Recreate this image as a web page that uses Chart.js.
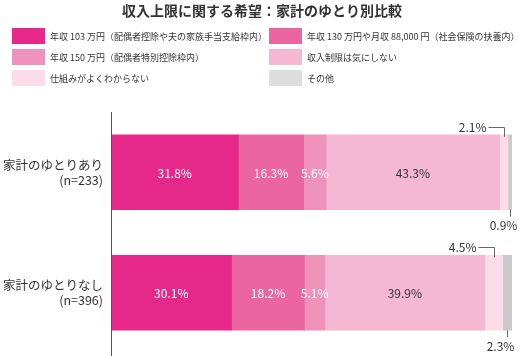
<!DOCTYPE html>
<html>
<head>
<meta charset="utf-8">
<script src="https://cdn.jsdelivr.net/npm/chart.js@4.4.1/dist/chart.umd.min.js"></script>
<style>
html,body{margin:0;padding:0;background:#fff;}
#wrap{width:521px;height:356px;position:relative;}
</style>
</head>
<body>
<div id="wrap"><canvas id="c" width="521" height="356"></canvas></div>
<script>
const titleText = '収入上限に関する希望：家計のゆとり別比較';
const categories = [['家計のゆとりあり', '(n=233)'], ['家計のゆとりなし', '(n=396)']];
const seriesNames = [
  '年収 103 万円（配偶者控除や夫の家族手当支給枠内）',
  '年収 130 万円や月収 88,000 円（社会保険の扶養内）',
  '年収 150 万円（配偶者特別控除枠内）',
  '収入制限は気にしない',
  '仕組みがよくわからない',
  'その他'
];
const s103 = [31.8, 30.1];
const s130 = [16.3, 18.2];
const s150 = [5.6, 5.1];
const sNoLimit = [43.3, 39.9];
const sUnknown = [2.1, 4.5];
const sOther = [0.9, 2.3];
const seriesValues = [s103, s130, s150, sNoLimit, sUnknown, sOther];
const barColors = ['#e6288a', '#eb66a0', '#ee92b9', '#f4b8d2', '#fbdce8', '#c9c9c9'];
const legendColors = ['#e6288a', '#eb66a0', '#ee92b9', '#f4b8d2', '#fbdce8', '#dcdddd'];
const insideTextColors = ['#ffffff', '#ffffff', '#ffffff', '#333333'];

const FONT = '"Noto Sans CJK JP", "Noto Sans", sans-serif';

const drawPlugin = {
  id: 'drawExtras',
  afterDatasetsDraw(chart) {
    const ctx = chart.ctx;
    const area = chart.chartArea;
    ctx.save();
    // Title
    ctx.fillStyle = '#333';
    ctx.font = 'bold 14px ' + FONT;
    ctx.textAlign = 'center';
    ctx.textBaseline = 'middle';
    ctx.fillText(titleText, 262, 11);

    // Legend (two columns)
    const colX = [12, 269];
    const rowY = [28, 49, 70];
    ctx.font = '9px ' + FONT;
    ctx.textAlign = 'left';
    chart.data.datasets.forEach((ds, i) => {
      const col = i % 2, row = Math.floor(i / 2);
      const x = colX[col], y = rowY[row];
      ctx.fillStyle = legendColors[i];
      ctx.fillRect(x, y, 33, 16);
      ctx.fillStyle = '#333';
      ctx.fillText(ds.label, x + 38, y + 8.5);
    });

    // Axis line
    ctx.strokeStyle = '#555';
    ctx.lineWidth = 1;
    ctx.beginPath();
    ctx.moveTo(area.left + 0.5, area.top);
    ctx.lineTo(area.left + 0.5, 356);
    ctx.stroke();

    // Inside labels
    ctx.font = '12px ' + FONT;
    ctx.textAlign = 'center';
    for (let d = 0; d < 4; d++) {
      const meta = chart.getDatasetMeta(d);
      meta.data.forEach((bar, j) => {
        const v = chart.data.datasets[d].data[j];
        const cx = (bar.base + bar.x) / 2;
        ctx.fillStyle = insideTextColors[d];
        ctx.fillText(v.toFixed(1) + '%', cx, bar.y + 1);
      });
    }

    // Outside labels with leader lines
    ctx.strokeStyle = '#666';
    ctx.fillStyle = '#333';
    const m4 = chart.getDatasetMeta(4);
    m4.data.forEach((bar, j) => {
      const v = chart.data.datasets[4].data[j];
      const cx = Math.round((bar.base + bar.x) / 2) + 0.5;
      const top = bar.y - bar.height / 2;
      const ly = Math.round(top - 8) + 0.5;
      ctx.beginPath();
      ctx.moveTo(cx - 16, ly);
      ctx.lineTo(cx, ly);
      ctx.lineTo(cx, top + 2);
      ctx.stroke();
      ctx.textAlign = 'right';
      ctx.fillText(v.toFixed(1) + '%', cx - 18, ly);
    });
    const m5 = chart.getDatasetMeta(5);
    m5.data.forEach((bar, j) => {
      const v = chart.data.datasets[5].data[j];
      const cx = Math.round((bar.base + bar.x) / 2) + 0.5;
      const bot = bar.y + bar.height / 2;
      ctx.beginPath();
      ctx.moveTo(cx, bot);
      ctx.lineTo(cx, bot + 7);
      ctx.stroke();
      ctx.textAlign = 'center';
      ctx.fillText(v.toFixed(1) + '%', cx - 7, bot + 16);
    });
    ctx.restore();
  }
};

new Chart(document.getElementById('c'), {
  type: 'bar',
  data: {
    labels: categories,
    datasets: seriesValues.map((vals, i) => ({
      label: seriesNames[i],
      data: vals,
      backgroundColor: barColors[i],
      borderWidth: 0,
      barThickness: 75
    }))
  },
  options: {
    indexAxis: 'y',
    responsive: false,
    animation: false,
    layout: { padding: { top: 112, bottom: 3, right: 9, left: 0 } },
    plugins: { legend: { display: false }, title: { display: false }, tooltip: { enabled: false } },
    scales: {
      x: { stacked: true, min: 0, max: 100.1, display: false },
      y: {
        stacked: true,
        grid: { display: false },
        border: { display: false },
        ticks: { color: '#333', font: { size: 12.5, family: FONT }, padding: 0 },
        afterFit(scale) { scale.width = 111; scale.paddingTop = 0; scale.paddingBottom = 0; }
      }
    }
  },
  plugins: [drawPlugin]
});
</script>
</body>
</html>
